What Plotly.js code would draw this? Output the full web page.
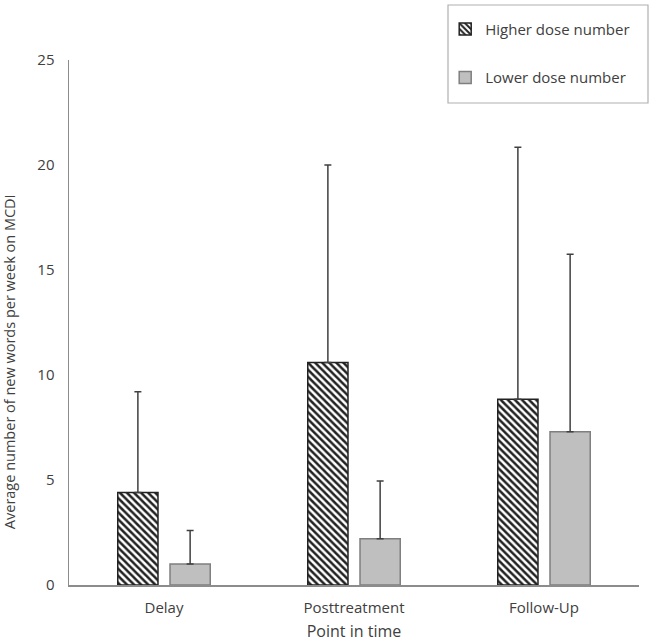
<!DOCTYPE html>
<html><head><meta charset="utf-8">
<script src="https://cdn.plot.ly/plotly-3.0.1.min.js"></script>
<style>html,body{margin:0;padding:0;background:#fff}#c{width:653px;height:642px}</style>
</head><body><div id="c"></div>
<script>
const categories = ["Delay", "Posttreatment", "Follow-Up"];
const higherMeans = [4.4, 10.6, 8.85];
const higherErr = [4.8, 9.4, 12.0];
const lowerMeans = [1.0, 2.2, 7.3];
const lowerErr = [1.6, 2.75, 8.45];
const yTicks = [0, 5, 10, 15, 20, 25];

const font = {family: "Open Sans, Lato, sans-serif", color: "#404040", size: 15};

const traces = [
  {
    type: "bar", name: "Higher dose number", x: categories, y: higherMeans,
    legendgroup: "a",
    marker: {color: "#ffffff", line: {color: "#222222", width: 1.5},
             pattern: {shape: "\\", fgcolor: "#222222", bgcolor: "#ffffff", size: 5, solidity: 0.5}},
    error_y: {type: "data", symmetric: false, array: higherErr, arrayminus: [0,0,0],
              color: "#404040", thickness: 1.5, width: 3.5}
  },
  {
    type: "bar", name: "Lower dose number", x: categories, y: lowerMeans,
    legendgroup: "b",
    marker: {color: "#bfbfbf", line: {color: "#7f7f7f", width: 1.5}},
    error_y: {type: "data", symmetric: false, array: lowerErr, arrayminus: [0,0,0],
              color: "#404040", thickness: 1.5, width: 3.5}
  }
];

const layout = {
  width: 653, height: 642,
  margin: {l: 69, r: 14, t: 60, b: 57, autoexpand: false},
  paper_bgcolor: "#ffffff", plot_bgcolor: "#ffffff",
  font: font,
  barmode: "group", bargap: 0.45, bargroupgap: 0.23,
  showlegend: true,
  legend: {x: 0.66, y: 1.09, xanchor: "left", yanchor: "top", itemwidth: 30,
           font: {family: "Open Sans, Lato, sans-serif", size: 15, color: "#404040"},
           tracegroupgap: 26, bgcolor: "rgba(0,0,0,0)", borderwidth: 0},
  xaxis: {
    showline: true, linecolor: "#8c8c8c", linewidth: 1.5, ticks: "", showgrid: false,
    zeroline: false, tickfont: {size: 15, color: "#404040"}, ticklabelstandoff: 8,
    title: {text: "Point in time", font: {size: 16, color: "#404040"}, standoff: 12}
  },
  yaxis: {
    range: [0, 25], tickvals: yTicks, ticktext: yTicks.map(String),
    showline: true, linecolor: "#8c8c8c", linewidth: 1.5, ticks: "", showgrid: false,
    zeroline: false, tickfont: {size: 15, color: "#404040"}, ticklabelstandoff: 10
  },
  annotations: [{
    text: "Average number of new words per week on MCDI", textangle: -90,
    xref: "paper", yref: "paper", x: -0.103, y: 0.425, xanchor: "center", yanchor: "middle",
    showarrow: false, font: {size: 14.5, color: "#404040"}
  }],
  shapes: [{
    type: "rect", xref: "paper", yref: "paper",
    x0: (448-69)/570, x1: (648-69)/570, y0: (585-103)/525, y1: (585-5)/525,
    line: {color: "#b0b0b0", width: 1.2}, fillcolor: "rgba(0,0,0,0)"
  }]
};

Plotly.newPlot("c", traces, layout, {displayModeBar: false, staticPlot: true});
</script></body></html>
